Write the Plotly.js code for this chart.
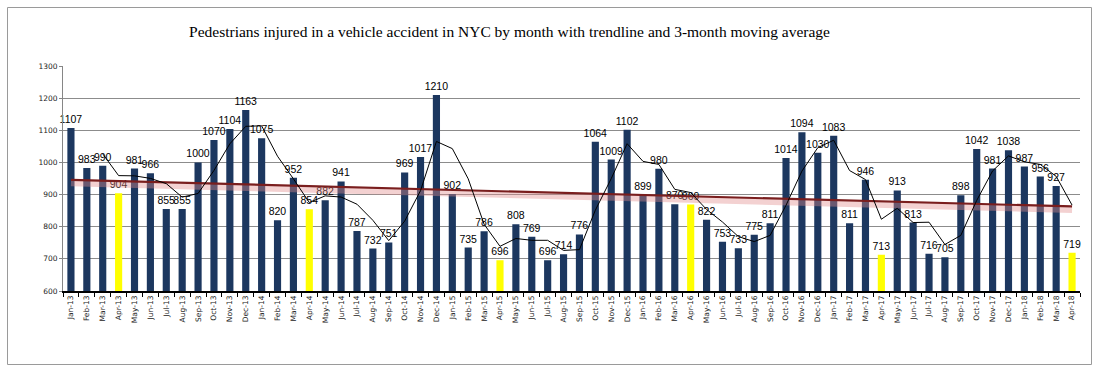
<!DOCTYPE html>
<html>
<head>
<meta charset="utf-8">
<script src="https://cdn.plot.ly/plotly-3.0.1.min.js"></script>
<style>
  html, body { margin: 0; padding: 0; background: #fff; }
  #chart { width: 1110px; height: 376px; }
</style>
</head>
<body>
<div id="chart"></div>
<script>
// ---- data ----
const months = [
  "Jan-13","Feb-13","Mar-13","Apr-13","May-13","Jun-13","Jul-13","Aug-13","Sep-13","Oct-13","Nov-13","Dec-13",
  "Jan-14","Feb-14","Mar-14","Apr-14","May-14","Jun-14","Jul-14","Aug-14","Sep-14","Oct-14","Nov-14","Dec-14",
  "Jan-15","Feb-15","Mar-15","Apr-15","May-15","Jun-15","Jul-15","Aug-15","Sep-15","Oct-15","Nov-15","Dec-15",
  "Jan-16","Feb-16","Mar-16","Apr-16","May-16","Jun-16","Jul-16","Aug-16","Sep-16","Oct-16","Nov-16","Dec-16",
  "Jan-17","Feb-17","Mar-17","Apr-17","May-17","Jun-17","Jul-17","Aug-17","Sep-17","Oct-17","Nov-17","Dec-17",
  "Jan-18","Feb-18","Mar-18","Apr-18"
];
const injured = [
  1107, 983, 990, 904, 981, 966, 855, 855, 1000, 1070, 1104, 1163,
  1075, 820, 952, 854, 882, 941, 787, 732, 751, 969, 1017, 1210,
  902, 735, 786, 696, 808, 769, 696, 714, 776, 1064, 1009, 1102,
  899, 980, 870, 869, 822, 753, 733, 775, 811, 1014, 1094, 1030,
  1083, 811, 946, 713, 913, 813, 716, 705, 898, 1042, 981, 1038,
  987, 956, 927, 719
];
// 3-month moving average, starting at Mar-13
const maMonths = months.slice(2);
const movingAvg = [
  1026.7, 959.0, 958.3, 950.3, 934.0, 892.0, 903.3, 975.0, 1058.0, 1112.3,
  1114.0, 1019.3, 949.0, 875.3, 896.0, 892.3, 870.0, 820.0, 756.7, 817.3, 912.3, 1065.3,
  1043.0, 949.0, 807.7, 739.0, 763.3, 757.7, 757.7, 726.3, 728.7, 851.3, 949.7, 1058.3,
  1003.3, 993.7, 916.3, 906.3, 853.7, 814.7, 769.3, 753.7, 773.0, 866.7, 973.0, 1046.0,
  1069.0, 974.7, 946.7, 823.3, 857.3, 813.0, 814.0, 744.7, 773.0, 881.7, 973.7, 1020.3,
  1002.0, 993.7, 956.7, 867.3
];
// linear trendline end points
const trendMonths = ["Jan-13", "Apr-18"];
const trendValues = [946, 863];
const highlightMonth = "Apr";

// ---- styling ----
const navy = "#1C375F";
const yellow = "#FFFF00";
const barColors = months.map(m => m.startsWith(highlightMonth) ? yellow : navy);

const W = 1110, H = 376;
const M = { l: 63, r: 30, t: 66, b: 85 };
const pw = W - M.l - M.r, ph = H - M.t - M.b;
const px2x = x => (x - M.l) / pw;
const px2y = y => (H - M.b - y) / ph;

const traces = [
  {
    type: "bar",
    x: months,
    y: injured,
    marker: { color: barColors },
    text: injured.map(String),
    textposition: "outside",
    textangle: 0,
    constraintext: "none",
    cliponaxis: false,
    textfont: { family: "Liberation Sans, Arial, sans-serif", size: 10.5, color: "#000" },
    hoverinfo: "x+y",
    showlegend: false
  },
  {
    type: "scatter",
    mode: "lines",
    x: trendMonths,
    y: trendValues.map(v => v - 11),
    line: { color: "rgba(225,140,140,0.40)", width: 6 },
    hoverinfo: "skip",
    showlegend: false
  },
  {
    type: "scatter",
    mode: "lines",
    x: trendMonths,
    y: trendValues,
    line: { color: "#7A1E1E", width: 2.2 },
    hoverinfo: "skip",
    showlegend: false
  },
  {
    type: "scatter",
    mode: "lines",
    x: maMonths,
    y: movingAvg,
    line: { color: "#000", width: 1 },
    hoverinfo: "x+y",
    showlegend: false
  }
];

const layout = {
  width: W,
  height: H,
  margin: M,
  paper_bgcolor: "#fff",
  plot_bgcolor: "#fff",
  bargap: 0.55,
  font: { family: "Liberation Sans, Arial, sans-serif", color: "#000" },
  title: {
    text: "Pedestrians injured in a vehicle accident in NYC by month with trendline and 3-month moving average",
    font: { family: "Liberation Serif, serif", size: 15.5, color: "#000" },
    xref: "container", yref: "container",
    x: 0.459, xanchor: "center",
    y: 1 - 32 / H, yanchor: "middle"
  },
  xaxis: {
    type: "category",
    categoryorder: "array",
    categoryarray: months,
    range: [-0.5, months.length - 0.5],
    tickson: "boundaries",
    ticks: "outside",
    ticklen: 4,
    tickcolor: "#000",
    tickangle: -90,
    tickfont: { family: "DejaVu Sans, Tahoma, sans-serif", size: 7.5, color: "#222" },
    showline: true,
    linecolor: "#000",
    linewidth: 1.5,
    showgrid: false,
    fixedrange: true
  },
  yaxis: {
    range: [600, 1300],
    dtick: 100,
    ticks: "outside",
    ticklen: 3,
    tickcolor: "#868686",
    tickfont: { family: "DejaVu Sans, Tahoma, sans-serif", size: 7.5, color: "#222" },
    showline: true,
    linecolor: "#868686",
    linewidth: 1,
    gridcolor: "#8C8C8C",
    gridwidth: 1,
    zeroline: false,
    fixedrange: true
  },
  shapes: [
    {
      type: "rect",
      xref: "paper", yref: "paper",
      x0: px2x(7.5), x1: px2x(1091.5),
      y0: px2y(364.5), y1: px2y(7.5),
      line: { color: "#9A9A9A", width: 1 },
      fillcolor: "rgba(0,0,0,0)",
      layer: "below"
    }
  ]
};

Plotly.newPlot("chart", traces, layout, { displayModeBar: false, staticPlot: true });
</script>
</body>
</html>
